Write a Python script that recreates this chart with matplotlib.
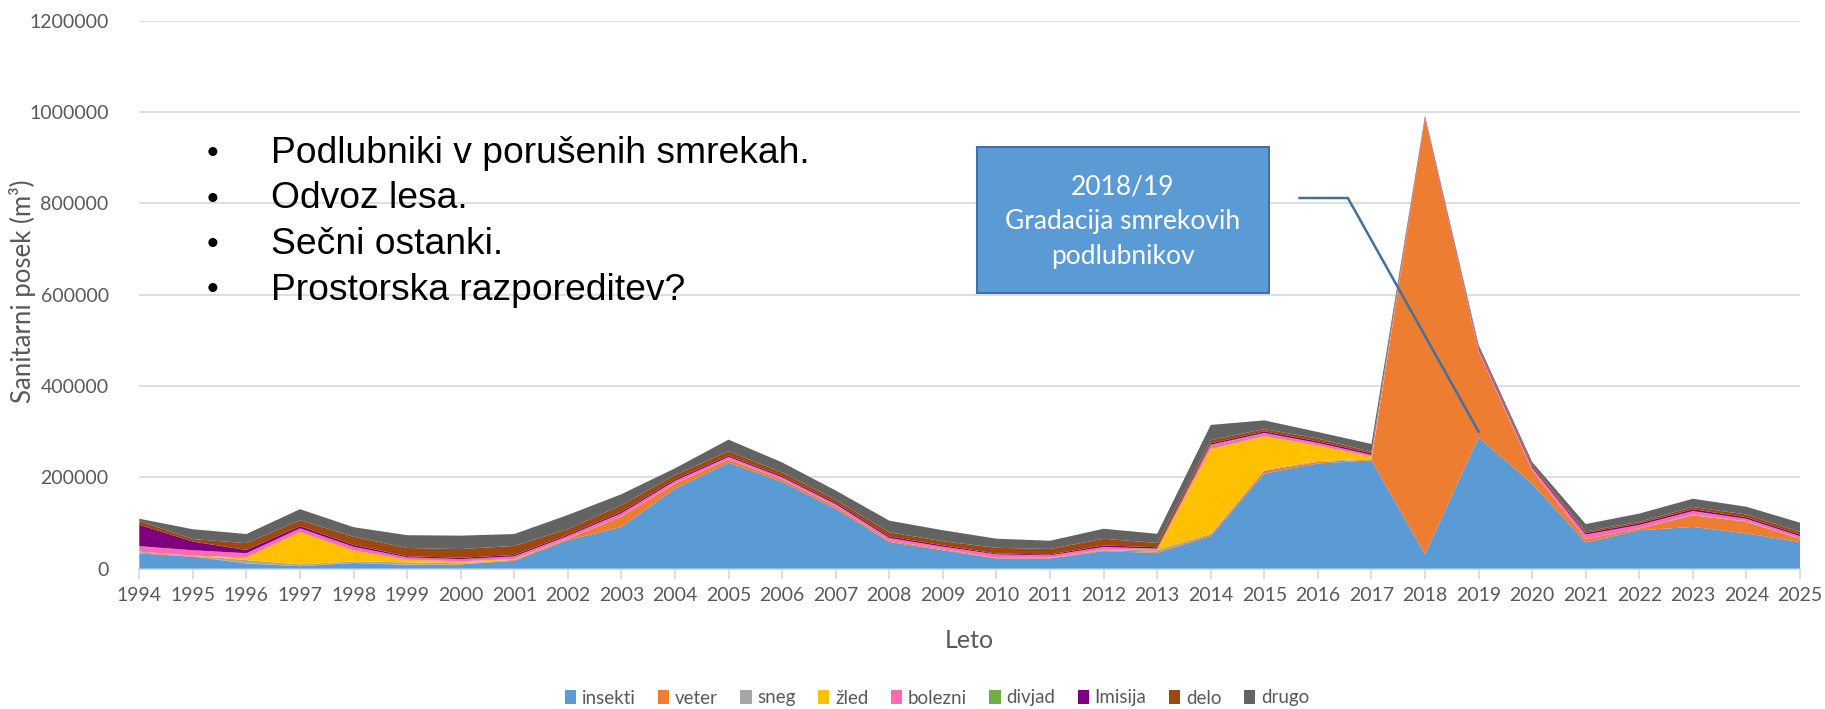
import matplotlib
matplotlib.use("Agg")
import matplotlib.pyplot as plt
from matplotlib.patches import Patch, Rectangle
import numpy as np

plt.rcParams['font.family'] = ['Lato', 'DejaVu Sans']

years = list(range(1994, 2026))
series_names = ["insekti", "veter", "sneg", "žled", "bolezni", "divjad", "Imisija", "delo", "drugo"]
colors = ["#5B9BD5", "#ED7D31", "#A5A5A5", "#FFC000", "#FF69B4", "#70AD47", "#7F007F", "#9E480E", "#636363"]

insekti = [33000, 26000, 11000, 5000, 12000, 8000, 9000, 17000, 62000, 91000,
           175000, 232000, 190000, 131000, 58000, 40000, 22000, 22000, 38000, 34000,
           71000, 208000, 230000, 237000, 31000, 287000, 186000, 57000, 84000, 91000,
           77000, 58000]
veter = [2000, 1000, 500, 0, 500, 500, 500, 2000, 3000, 23000,
         11000, 7000, 5000, 5000, 3000, 2000, 1000, 1000, 2000, 3000,
         3000, 6000, 3500, 1500, 955000, 188000, 29000, 7000, 3500, 25500,
         25500, 7000]
sneg = [2000, 1000, 7000, 4000, 3000, 5000, 2000, 500, 1000, 500,
        500, 500, 500, 500, 500, 500, 500, 500, 1600, 4000,
        2000, 2000, 2000, 1500, 0, 0, 500, 500, 500, 2000,
        1000, 500]
zled = [0, 0, 6000, 71000, 24000, 6000, 4000, 1500, 0, 0,
        0, 0, 0, 0, 0, 0, 0, 0, 0, 0,
        186000, 74000, 34000, 5000, 0, 0, 0, 0, 0, 0,
        0, 0]
bolezni = [11000, 12000, 9000, 8000, 8000, 5000, 5000, 5000, 5000, 6000,
           5000, 4500, 4000, 4000, 5000, 5000, 7000, 5000, 5000, 2000,
           7000, 6000, 5000, 3500, 1500, 4000, 5000, 9500, 7000, 7000,
           5000, 5000]
divjad = [1000, 0, 0, 0, 0, 0, 0, 500, 300, 300,
          300, 300, 300, 300, 300, 300, 300, 300, 500, 500,
          2000, 1000, 500, 300, 0, 300, 300, 300, 300, 300,
          300, 300]
imisija = [47000, 19000, 7000, 5000, 4000, 2500, 3000, 3000, 3000, 3500,
           3600, 3000, 3000, 3500, 3500, 3000, 2000, 2000, 3500, 3000,
           3000, 3500, 3500, 3500, 3000, 3000, 3000, 3500, 3500, 4000,
           3500, 3500]
delo = [8000, 5500, 15000, 13000, 18000, 18000, 19000, 20000, 12000, 14500,
        9500, 9500, 7500, 6500, 9000, 9000, 12500, 12000, 14500, 9500,
        7000, 5000, 6000, 3500, 500, 3000, 3500, 3500, 3500, 5000,
        6000, 6000]
drugo = [5000, 21500, 20000, 24000, 21000, 28000, 29500, 26000, 31000, 24000,
         14600, 25500, 22000, 20000, 25500, 24000, 20000, 18000, 22000, 20000,
         33500, 19000, 14500, 17000, 500, 5000, 6000, 16000, 18000, 18000,
         17000, 20000]

yticks = [0, 200000, 400000, 600000, 800000, 1000000, 1200000]

bullets = ["Podlubniki v porušenih smrekah.", "Odvoz lesa.", "Sečni ostanki.", "Prostorska razporeditev?"]
box_lines = "2018/19\nGradacija smrekovih\npodlubnikov"
leader_x = [2015.66, 2016.56, 2019.0]
leader_y = [811600, 811600, 300000]

W, H = 1825, 709
fig = plt.figure(figsize=(W / 100, H / 100), dpi=100)
ax = fig.add_axes([139.3 / W, 1 - 568.5 / H, (1800 - 139.3) / W, (568.5 - 20.7) / H])

data = [insekti, veter, sneg, zled, bolezni, divjad, imisija, delo, drugo]
ax.stackplot(years, *data, colors=colors, labels=series_names, linewidth=0, zorder=2)

ax.set_xlim(1994, 2025)
ax.set_ylim(0, 1200000)
ax.set_yticks(yticks)
ax.set_yticklabels([str(v) for v in yticks])
ax.set_xticks(years)
ax.set_xticklabels([str(y) for y in years])
ax.grid(axis='y', color='#D9D9D9', linewidth=1.2, zorder=0)
ax.set_axisbelow(True)
for s in ['top', 'right', 'left']:
    ax.spines[s].set_visible(False)
ax.spines['bottom'].set_color('#D9D9D9')
ax.spines['bottom'].set_linewidth(1.5)
ax.spines['bottom'].set_zorder(1)
ax.tick_params(axis='x', colors='#D9D9D9', length=7, width=1.2, labelcolor='#595959', labelsize=14, pad=6)
ax.tick_params(axis='y', length=0, labelcolor='#595959', labelsize=14, pad=22)

ax.set_xlabel("Leto", fontsize=18, color='#595959', labelpad=18)
fig.text(23 / W, 1 - 291 / H, "Sanitarni posek (m³)", rotation=90, fontsize=18.5,
         color='#595959', ha='center', va='center')

# leader line
ax.plot(leader_x, leader_y, color='#41719C', linewidth=1.8, zorder=5)

# annotation box
bx0, by0, bx1, by1 = 977, 146.7, 1269, 292.7
rect = Rectangle((bx0 / W, 1 - by1 / H), (bx1 - bx0) / W, (by1 - by0) / H,
                 transform=fig.transFigure, facecolor='#5B9BD5', edgecolor='#41719C',
                 linewidth=1.5, zorder=6)
fig.patches.append(rect)
for i, line in enumerate(box_lines.split("\n")):
    fig.text(1123 / W, 1 - (186.7 + 35 * i) / H, line, fontsize=19, color='white',
             ha='center', va='center', zorder=7)

# bullet text
baselines = [163, 208.5, 254, 299.5]
for b, t in zip(baselines, bullets):
    fig.text(213 / W, 1 - b / H, "•", fontsize=24, family='Liberation Sans',
             color='black', ha='center', va='baseline')
    fig.text(271 / W, 1 - b / H, t, fontsize=26.8, family='Liberation Sans',
             color='black', ha='left', va='baseline')

handles = [Patch(facecolor=c, edgecolor='none', label=n) for c, n in zip(colors, series_names)]
leg = fig.legend(handles=handles, loc='center', bbox_to_anchor=(937 / W, 1 - 698 / H), ncol=9,
                 frameon=False, fontsize=13.5, handlelength=0.6, handleheight=0.7,
                 handletextpad=0.3, columnspacing=1.2)
for t in leg.get_texts():
    t.set_color('#595959')

fig.savefig("out.png", dpi=100)
